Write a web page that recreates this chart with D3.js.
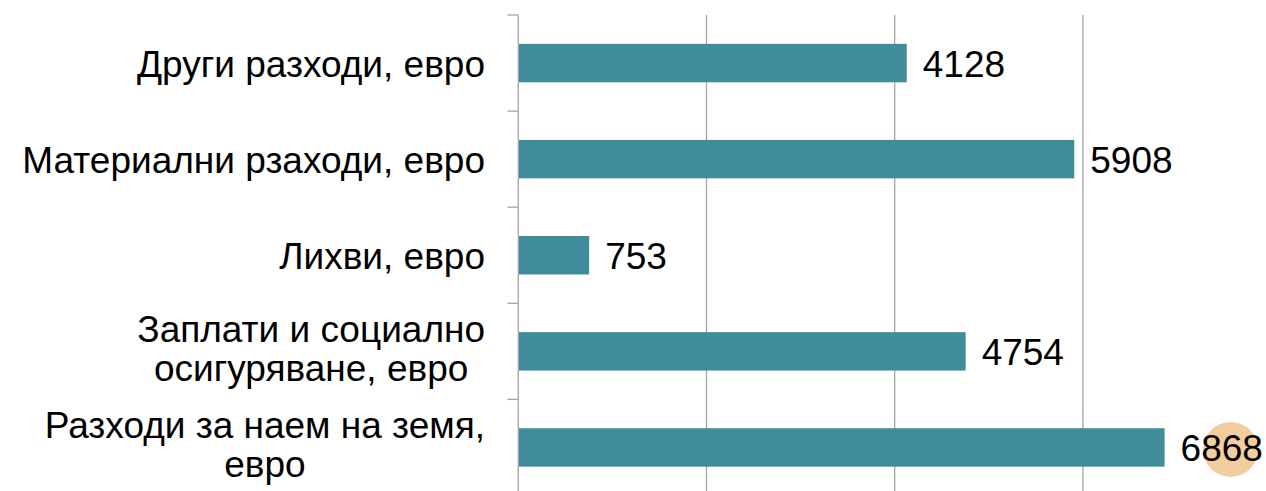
<!DOCTYPE html>
<html>
<head>
<meta charset="utf-8">
<script src="https://cdn.jsdelivr.net/npm/d3@7"></script>
<style>
  html, body { margin: 0; padding: 0; background: #fff; }
  svg { display: block; font-family: "Liberation Sans", Arial, sans-serif; }
</style>
</head>
<body>
<svg id="chart" width="1266" height="491"></svg>
<script>
"use strict";

// categories top to bottom, "\n" marks a line break in the label
var categories = [
  "Други разходи, евро",
  "Материални рзаходи, евро",
  "Лихви, евро",
  "Заплати и социално\nосигуряване, евро",
  "Разходи за наем на земя,\nевро"
];
var values = [4128, 5908, 753, 4754, 6868];
var gridValues = [2000, 4000, 6000];

var svg = d3.select("#chart"),
  margin = {top: 15, left: 518.3},
  plotHeight = 480.5,   // plot runs a little past the bottom edge
  fontSize = 37,
  gridColor = "#a6a6a6"
;

var x = d3.scaleLinear().domain([0, 8000]).range([margin.left, margin.left + 752.8]),
  y = d3.scaleBand().domain(categories).range([margin.top, margin.top + plotHeight])
    .paddingInner(0.6).paddingOuter(0.3);

var step = y.step();

// vertical gridlines
svg.append("g")
  .selectAll("line")
  .data(gridValues)
  .join("line")
  .attr("x1", d => x(d)).attr("x2", d => x(d))
  .attr("y1", margin.top).attr("y2", margin.top + plotHeight)
  .attr("stroke", gridColor)
  .attr("stroke-width", 1.3);

// bars
svg.append("g")
  .selectAll("rect")
  .data(values)
  .join("rect")
  .attr("x", x(0))
  .attr("y", (d, i) => y(categories[i]))
  .attr("width", d => x(d) - x(0))
  .attr("height", y.bandwidth())
  .attr("fill", "#418c9a");

// left axis line + ticks at band boundaries
svg.append("line")
  .attr("x1", x(0)).attr("x2", x(0))
  .attr("y1", margin.top).attr("y2", margin.top + plotHeight)
  .attr("stroke", gridColor).attr("stroke-width", 1.3);

svg.append("g")
  .selectAll("line")
  .data(d3.range(categories.length + 1))
  .join("line")
  .attr("x1", x(0) - 11).attr("x2", x(0))
  .attr("y1", i => margin.top + i * step).attr("y2", i => margin.top + i * step)
  .attr("stroke", gridColor).attr("stroke-width", 1.3);

// decoration circle behind the last value label
var lastIdx = values.length - 1;
svg.append("circle")
  .attr("cx", x(values[lastIdx]) + 66)
  .attr("cy", y(categories[lastIdx]) + y.bandwidth() / 2 + 2)
  .attr("r", 27.5)
  .attr("fill", "#f1cd9f");

// value labels
svg.append("g")
  .selectAll("text")
  .data(values)
  .join("text")
  .attr("x", d => x(d) + 16)
  .attr("y", (d, i) => y(categories[i]) + y.bandwidth() / 2 + 14)
  .attr("font-size", fontSize)
  .attr("fill", "#000")
  .text(d => d);

// category labels
var labelRight = 485, lineHeight = 39;
categories.forEach(function(c) {
  var lines = c.split("\n"),
    cy = y(c) + y.bandwidth() / 2,
    g = svg.append("g");
  var texts = g.selectAll("text")
    .data(lines)
    .join("text")
    .attr("font-size", fontSize)
    .attr("fill", "#000")
    .text(d => d);
  if (lines.length === 1) {
    texts.attr("x", labelRight).attr("text-anchor", "end")
      .attr("y", cy + 14);
  } else {
    var maxW = d3.max(texts.nodes(), n => n.getComputedTextLength());
    texts.attr("x", labelRight - maxW / 2).attr("text-anchor", "middle")
      .attr("y", (d, i) => cy + 10 + (i - (lines.length - 1) / 2) * lineHeight);
  }
});
</script>
</body>
</html>
